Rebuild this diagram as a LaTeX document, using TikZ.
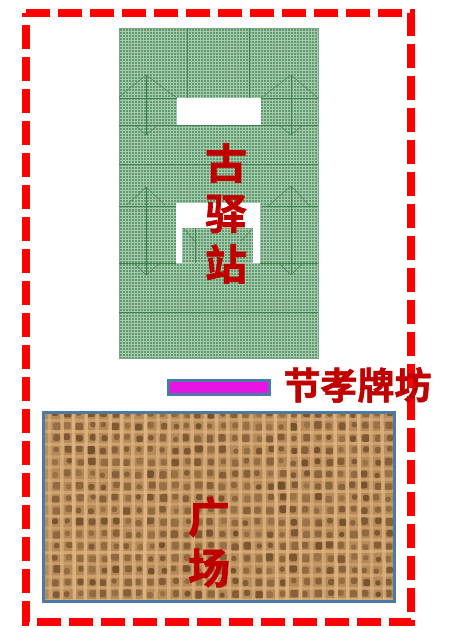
\documentclass[tikz,border=0pt]{standalone}
\usepackage{fontspec}
\newfontfamily\cjk[BoldFont={Noto Sans CJK SC Bold},BoldFeatures={FakeBold=1.5}]{Noto Sans CJK SC}
\definecolor{framered}{HTML}{FF0000}
\definecolor{labelred}{HTML}{C00000}
\definecolor{roofbase}{HTML}{5F9A6E}
\definecolor{roofgrid}{HTML}{A6CAAD}
\definecolor{roofline}{HTML}{3F8050}
\definecolor{steelblue}{HTML}{4A7BA8}
\definecolor{gatepink}{HTML}{EA14E2}
\definecolor{burlapbase}{HTML}{B58A58}
\definecolor{burlaplight}{HTML}{E0B582}
\definecolor{burlapdark}{HTML}{6E4A28}
\tikzset{
  redframe/.style={draw=framered,line width=8pt,dash pattern=on 24pt off 8pt,miter limit=10},
  roofedge/.style={draw=roofline,line width=0.7pt},
  roofthin/.style={draw=roofline,line width=0.4pt},
  whitecut/.style={fill=white,draw=none},
  biglabel/.style={font=\cjk\bfseries\fontsize{42pt}{42pt}\selectfont,text=labelred,inner sep=0pt},
  gatelabel/.style={font=\cjk\bfseries\fontsize{37pt}{37pt}\selectfont,text=labelred,inner sep=0pt},
}
\begin{document}
\begin{tikzpicture}[x=1pt,y=-1pt]
\useasboundingbox (0,0) rectangle (452,628);
% roof plan
\begin{scope}
\clip (119,28) rectangle (318,358);
\fill[roofbase] (119,28) rectangle (318,358);
\foreach \i in {0,...,67} {\draw[roofgrid,line width=1pt] ({119.5+\i*3},28) -- ({119.5+\i*3},358);}
\foreach \i in {0,...,110} {\draw[roofgrid,line width=1pt] (119,{29+\i*3}) -- (318,{29+\i*3});}
\end{scope}
\draw[draw=roofline!70,line width=0.6pt] (119,28) rectangle (318,358);
\fill[whitecut] (177,98) rectangle (261,125);
\fill[whitecut] (176,203) rectangle (260,263);
\fill[roofbase] (182,228) rectangle (253,263);
\begin{scope}
\clip (182,228) rectangle (253,263);
\foreach \i in {0,...,24} {\draw[roofgrid,line width=1pt] ({182.5+\i*3},228) -- ({182.5+\i*3},263);}
\foreach \i in {0,...,12} {\draw[roofgrid,line width=1pt] (182,{229+\i*3}) -- (253,{229+\i*3});}
\end{scope}
% top roof lines
\draw[roofedge] (187,28) -- (187,98);
\draw[roofedge] (249,28) -- (249,98);
\draw[roofedge] (119,125) -- (318,125);
\draw[roofthin] (119,98) -- (177,98);
\draw[roofthin] (261,98) -- (318,98);
\draw[roofedge] (119,164) -- (318,164);
\draw[roofedge] (119,312) -- (318,312);
\draw[roofthin] (119,97) -- (146,75) -- (177,98);
\draw[roofthin] (261,98) -- (291,75) -- (318,98);
\draw[roofthin] (146,75) -- (146,135);
\draw[roofthin] (291,75) -- (291,135);
\draw[roofthin] (135,125) -- (146,135) -- (158,125);
\draw[roofthin] (279,125) -- (291,135) -- (303,125);
% lower roof lines
\draw[roofthin] (127,205) -- (146,187) -- (165,205);
\draw[roofthin] (268,206) -- (291,186) -- (310,206);
\draw[roofthin] (146,187) -- (146,275);
\draw[roofthin] (291,186) -- (291,275);
\draw[roofthin] (119,206) -- (176,206);
\draw[roofthin] (262,206) -- (318,206);
\draw[roofthin] (119,263) -- (176,263);
\draw[roofthin] (260,263) -- (318,263);
\draw[roofthin] (134,263) -- (146,275) -- (160,263);
\draw[roofthin] (279,263) -- (291,275) -- (303,263);
\draw[roofthin] (183,228) -- (195,241);
\draw[roofthin] (253,228) -- (241,241);
\draw[roofthin] (195,228) -- (195,263);
% gate
\node[draw=steelblue,fill=gatepink,line width=3pt,minimum width=101pt,minimum height=14pt,inner sep=0pt] (gate) at (218.5,387.5) {};
% burlap square
\begin{scope}
\clip (43,412) rectangle (394,601);
\fill[burlapbase] (43,412) rectangle (394,601);
\pgfmathsetseed{7}
\foreach \i in {0,...,29} {
  \foreach \j in {0,...,16} {
    \pgfmathsetmacro{\op}{0.35+0.55*rnd}
    \pgfmathsetmacro{\dx}{rnd*3-1.5}
    \pgfmathsetmacro{\dy}{rnd*3-1.5}
    \pgfmathsetmacro{\rr}{2.5+1.5*rnd}
    \fill[burlapdark,opacity=\op,rounded corners=1.5pt] ({56+\i*11.9+\dx-\rr},{414+\j*12+\dy-\rr}) rectangle ({56+\i*11.9+\dx+\rr},{414+\j*12+\dy+\rr});
  }
}
\foreach \j in {0,...,15} {
  \pgfmathsetmacro{\wob}{rnd*2-1}
  \pgfmathsetmacro{\op}{0.3+0.4*rnd}
  \draw[burlaplight,opacity=\op,line width=3pt] (43,{420+\j*12+\wob}) -- (394,{420+\j*12-\wob});
}
\foreach \i in {0,...,29} {
  \pgfmathsetmacro{\wob}{rnd*3-1.5}
  \pgfmathsetmacro{\op}{0.55+0.4*rnd}
  \draw[burlaplight,opacity=\op,line width=3.5pt] ({50+\i*11.9+\wob},412) -- ({50+\i*11.9-\wob},601);
}
\end{scope}
\node[draw=steelblue,line width=3pt,minimum width=351pt,minimum height=189pt,inner sep=0pt] (square) at (218.5,506.5) {};
% dashed boundary
\draw[redframe] (26,13) -- (411,13) -- (411,622) -- (26,622) -- cycle;
% labels
\node[biglabel] (gu) at (226,163) {古};
\node[biglabel] (yi) at (226,214) {驿};
\node[biglabel] (zhan) at (226,264) {站};
\node[gatelabel,anchor=center] (gatename) at (357.5,385) {节孝牌坊};
\node[biglabel] (guang) at (209,517) {广};
\node[biglabel] (chang) at (209,568) {场};
\end{tikzpicture}
\end{document}
